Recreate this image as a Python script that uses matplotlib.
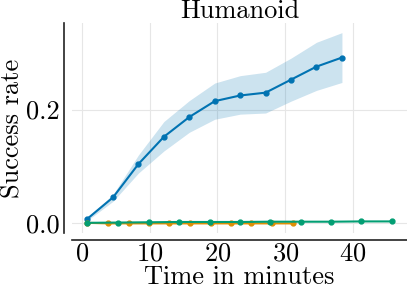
import numpy as np
import matplotlib
matplotlib.use("Agg")
import matplotlib.pyplot as plt

plt.rcParams['font.family'] = 'serif'
plt.rcParams['font.serif'] = ['cmr10']
plt.rcParams['mathtext.fontset'] = 'cm'
plt.rcParams['axes.formatter.use_mathtext'] = True

# blue run
t_blue = [0.8, 4.6, 8.35, 12.1, 15.85, 19.6, 23.35, 27.1, 30.85, 34.6, 38.35]
sr_blue = [0.007, 0.045, 0.104, 0.152, 0.187, 0.215, 0.225, 0.230, 0.253, 0.276, 0.292]
lo_blue = [0.004, 0.038, 0.088, 0.127, 0.160, 0.183, 0.192, 0.194, 0.215, 0.234, 0.248]
hi_blue = [0.010, 0.050, 0.120, 0.179, 0.216, 0.247, 0.260, 0.266, 0.291, 0.319, 0.336]

# orange run
t_orange = [0.8, 3.9, 6.9, 9.9, 12.9, 16.0, 19.0, 22.0, 25.0, 28.1, 31.1]
sr_orange = [0.0, -0.001, -0.001, -0.001, -0.001, -0.001, -0.001, -0.001, -0.001, -0.001, -0.001]

# green run
t_green = [0.8, 5.4, 9.9, 14.4, 18.9, 23.3, 27.8, 32.3, 36.8, 41.2, 45.7]
sr_green = [0.0, 0.0005, 0.001, 0.0015, 0.0015, 0.0015, 0.002, 0.002, 0.002, 0.0025, 0.0025]

c_blue, c_orange, c_green = '#0173b2', '#de8f05', '#029e73'
fs = 19

fig, ax = plt.subplots(figsize=(4.07, 2.89), dpi=100)
fig.subplots_adjust(left=0.177, right=1.0, top=0.92, bottom=0.194)

ax.fill_between(t_blue, lo_blue, hi_blue, color=c_blue, alpha=0.2, lw=0)
ax.plot(t_blue, sr_blue, color=c_blue, marker='o', ms=3.5, lw=1.5)
ax.plot(t_orange, sr_orange, color=c_orange, marker='o', ms=3.5, lw=1.5)
ax.plot(t_green, sr_green, color=c_green, marker='o', ms=3.5, lw=1.5)

ax.set_xticks([0, 10, 20, 30, 40])
ax.set_yticks([0.0, 0.2])
ax.set_yticklabels(['0.0', '0.2'])
ax.grid(True, color='#e6e6e6', lw=0.8)
ax.set_axisbelow(True)
ax.tick_params(length=0, labelsize=fs, pad=3)
ax.tick_params(axis='x', pad=1)

for s in ['top', 'right']:
    ax.spines[s].set_visible(False)
ax.spines['left'].set_position(('outward', 6))
ax.spines['bottom'].set_position(('outward', 5))
for s in ['left', 'bottom']:
    ax.spines[s].set_color('#222222')
    ax.spines[s].set_linewidth(1.2)

ax.set_title('Humanoid', fontsize=fs, pad=1)
ax.set_xlabel('Time in minutes', fontsize=fs, labelpad=0.5)
ax.set_ylabel('Success rate', fontsize=fs, labelpad=1)

fig.savefig('out.png', dpi=100)
